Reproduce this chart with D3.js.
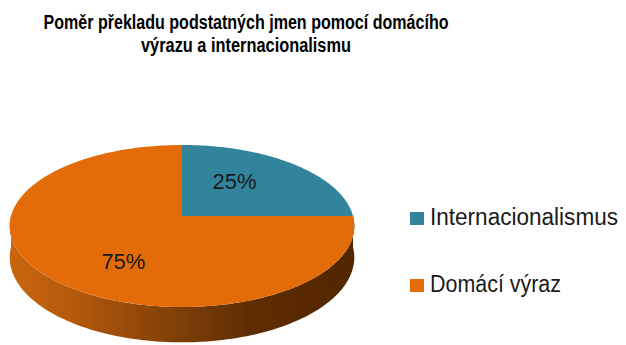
<!DOCTYPE html>
<html>
<head>
<meta charset="utf-8">
<script src="https://cdn.jsdelivr.net/npm/d3@7"></script>
<style>
  html, body { margin: 0; padding: 0; background: #fff; }
  svg { display: block; }
</style>
</head>
<body>
<svg id="chart" width="626" height="345"></svg>
<script>
// Chart data
const titleLines = ["Poměr překladu podstatných jmen pomocí domácího", "výrazu a internacionalismu"];
const categories = ["Internacionalismus", "Domácí výraz"];
const shares = [25, 75];
const sliceColors = ["#31849b", "#e36c09"];

const svg = d3.select("#chart");
const narrow = "'Liberation Sans Narrow', 'Liberation Sans', Arial, sans-serif";
const sans = "'Liberation Sans', Arial, sans-serif";

// Title
svg.append("g").selectAll("text")
  .data(titleLines)
  .join("text")
  .attr("x", 246)
  .attr("y", (d, i) => 29 + i * 23)
  .attr("text-anchor", "middle")
  .attr("font-family", narrow)
  .attr("font-weight", "bold")
  .attr("font-size", 20)
  .attr("fill", "#000")
  .attr("textLength", (d, i) => i === 0 ? 405 : 210)
  .attr("lengthAdjust", "spacingAndGlyphs")
  .text(d => d);

// Tilted pie geometry (perspective projection of a flat disc)
const CX = 182, CY = 216, RX = 171, A = 79.8, B = -0.123, DEPTH = 31;
function project(theta, k = 1, drop = 0) {
  const u = k * Math.sin(theta), v = -k * Math.cos(theta);
  const w = 1 + B * v;
  return [CX + RX * u / w, CY + (A * v + drop) / w];
}

const pie = d3.pie().sort(null).value(d => d);
const arcs = pie(shares);

// Side shading gradient
const defs = svg.append("defs");
const grad = defs.append("linearGradient")
  .attr("id", "sideGrad")
  .attr("gradientUnits", "userSpaceOnUse")
  .attr("x1", CX - RX).attr("x2", CX + RX)
  .attr("y1", 0).attr("y2", 0);
[[0, "#c9660f"], [0.18, "#b5590c"], [0.4, "#8c4608"], [0.7, "#5f2d03"], [1, "#522600"]]
  .forEach(([o, c]) => grad.append("stop").attr("offset", o).attr("stop-color", c));

const line = d3.line();
const steps = 120;
function sampled(a0, a1) {
  return d3.range(steps + 1).map(i => a0 + (a1 - a0) * i / steps);
}

// Visible side walls (near half of the disc)
const gSide = svg.append("g");
arcs.forEach(a => {
  const s = Math.max(a.startAngle, Math.PI / 2);
  const e = Math.min(a.endAngle, 3 * Math.PI / 2);
  if (e <= s) return;
  const ang = sampled(s, e);
  const pts = ang.map(t => project(t))
    .concat(ang.slice().reverse().map(t => project(t, 1, DEPTH)));
  gSide.append("path")
    .attr("d", line(pts) + "Z")
    .attr("fill", "url(#sideGrad)");
});

// Top faces
const gTop = svg.append("g");
arcs.forEach((a, i) => {
  const pts = [[CX, CY]].concat(sampled(a.startAngle, a.endAngle).map(t => project(t)));
  gTop.append("path")
    .attr("d", line(pts) + "Z")
    .attr("fill", sliceColors[i]);
});

// Percentage labels
const total = d3.sum(shares);
svg.append("g").selectAll("text")
  .data(arcs)
  .join("text")
  .each(function(d) {
    const m = (d.startAngle + d.endAngle) / 2;
    const x = CX - 3 + 0.46 * RX * Math.sin(m);
    const y = CY + 5 - 0.71 * A * Math.cos(m);
    d3.select(this).attr("x", x).attr("y", y + 8);
  })
  .attr("text-anchor", "middle")
  .attr("font-family", sans)
  .attr("font-size", 22)
  .attr("fill", "#1a1a1a")
  .attr("textLength", 44)
  .attr("lengthAdjust", "spacingAndGlyphs")
  .text(d => Math.round(d.value / total * 100) + "%");

// Legend
const legend = svg.append("g");
const legendY = [225, 292];
const legendW = [188, 131];
categories.forEach((c, i) => {
  legend.append("rect")
    .attr("x", 410).attr("y", legendY[i] - 13)
    .attr("width", 14).attr("height", 13)
    .attr("fill", sliceColors[i]);
  legend.append("text")
    .attr("x", 430).attr("y", legendY[i])
    .attr("font-family", sans)
    .attr("font-size", 23)
    .attr("fill", "#1a1a1a")
    .attr("textLength", legendW[i])
    .attr("lengthAdjust", "spacingAndGlyphs")
    .text(c);
});
</script>
</body>
</html>
